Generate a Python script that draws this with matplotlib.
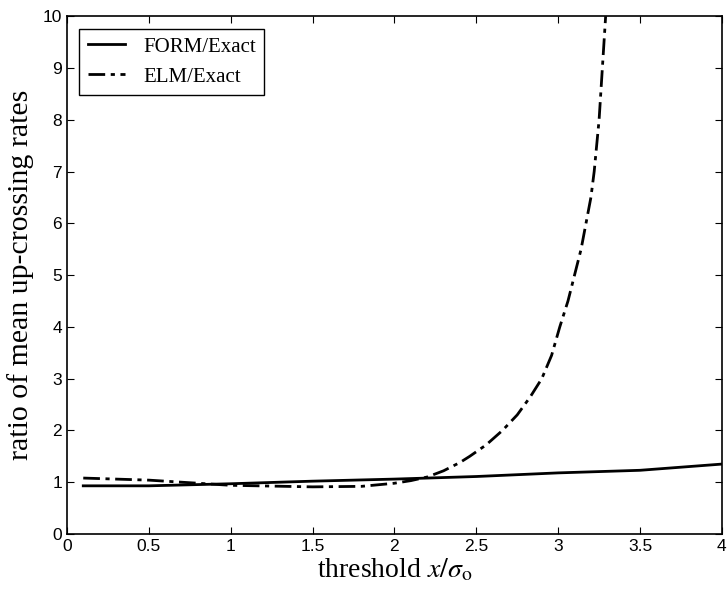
import matplotlib.pyplot as plt

plt.rcParams["mathtext.fontset"] = "stix"

# threshold x/sigma_o
x_form = [0.1, 0.5, 1.0, 1.5, 2.0, 2.5, 3.0, 3.5, 4.0]
y_form = [0.93, 0.93, 0.97, 1.02, 1.06, 1.11, 1.18, 1.23, 1.35]

x_elm = [0.1, 0.5, 1.0, 1.5, 1.8, 2.0, 2.1, 2.2, 2.3, 2.4, 2.46, 2.56, 2.66, 2.75,
         2.83, 2.9, 2.96, 3.01, 3.06, 3.10, 3.14, 3.17, 3.20, 3.22, 3.25, 3.27, 3.29]
y_elm = [1.08, 1.04, 0.94, 0.91, 0.92, 0.98, 1.03, 1.1, 1.22, 1.38, 1.5, 1.72, 2.0, 2.3,
         2.65, 3.0, 3.45, 4.0, 4.5, 5.0, 5.5, 6.0, 6.5, 7.0, 8.0, 9.0, 10.0]

xticks = [0, 0.5, 1, 1.5, 2, 2.5, 3, 3.5, 4]
yticks = list(range(0, 11))

fig = plt.figure(figsize=(7.27, 6.02), dpi=100)
ax = fig.add_axes([0.092, 0.113, 0.901, 0.860])

ax.plot(x_form, y_form, color="black", linewidth=2, linestyle="-", label="FORM/Exact")
ax.plot(x_elm, y_elm, color="black", linewidth=2, linestyle=(0, (6, 2, 1.5, 2)), label="ELM/Exact")

ax.set_xlim(0, 4)
ax.set_ylim(0, 10)
ax.set_xticks(xticks)
ax.set_xticklabels(["0", "0.5", "1", "1.5", "2", "2.5", "3", "3.5", "4"])
ax.set_yticks(yticks)
ax.tick_params(direction="in", length=5, labelsize=12.5, top=True, right=True)
for lbl in ax.get_xticklabels() + ax.get_yticklabels():
    lbl.set_family("Liberation Sans")
for s in ax.spines.values():
    s.set_linewidth(1.2)

ax.set_xlabel(r"threshold $x/\sigma_\mathrm{o}$", fontsize=20, family="Liberation Serif", labelpad=2)
ax.set_ylabel("ratio of mean up-crossing rates", fontsize=21.5, family="Liberation Serif", labelpad=6)

leg = ax.legend(loc="upper left", prop={"family": "Liberation Serif", "size": 15},
                fancybox=False, edgecolor="black", framealpha=1, handlelength=1.8,
                handletextpad=0.85, borderaxespad=0.6)
leg.get_frame().set_linewidth(1)

fig.savefig("out.png", dpi=100)
